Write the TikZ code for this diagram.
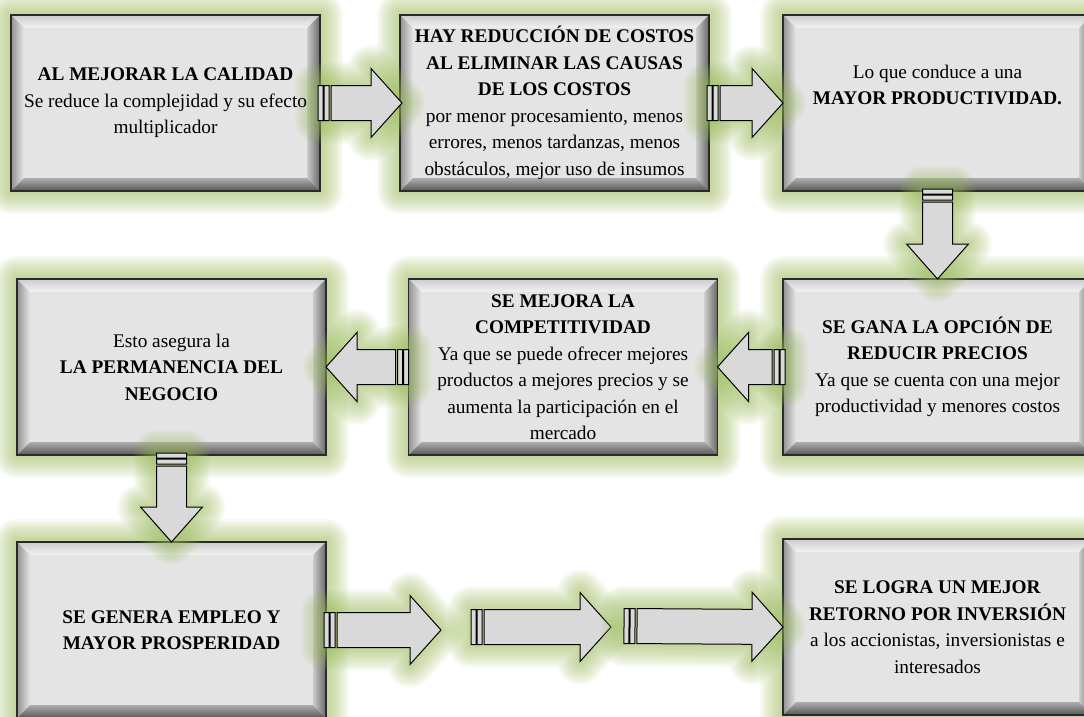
\documentclass[tikz,border=0pt]{standalone}
\usepackage{fontspec}
\setmainfont{Liberation Serif}
\usetikzlibrary{calc}

\definecolor{glowc}{HTML}{9BBB59}
\definecolor{facec}{HTML}{E4E4E4}
\definecolor{arrowc}{HTML}{D9D9D9}
\definecolor{edgec}{HTML}{2A2A2A}

\pgfdeclarelayer{paper}
\pgfdeclarelayer{boxglow}
\pgfdeclarelayer{bevel}
\pgfdeclarelayer{arrows}
\pgfsetlayers{paper,boxglow,bevel,arrows,main}

\tikzset{
  glowring/.style={preaction={draw=glowc, draw opacity=.065, line width=#1, line join=round, fill=none}},
  glow/.style={glowring=46pt, glowring=42pt, glowring=38pt, glowring=34pt, glowring=30pt,
               glowring=26pt, glowring=22pt, glowring=18pt, glowring=14pt, glowring=10pt, glowring=6pt},
  stagebox/.style={rectangle, minimum width=309pt, minimum height=176pt, inner sep=0pt,
                   outer sep=0pt, align=center, text=black,
                   font=\fontsize{19.3}{26.5}\selectfont},
  arrowbody/.style={fill=arrowc, draw=black, line width=1pt, line join=miter},
}

% bevelled box with a soft green glow around it
\newcommand\stage[3]{%
  \node[stagebox] (#1) at (#2) {#3};
  \begin{pgfonlayer}{boxglow}
    \path[glow] (#1.south west) rectangle (#1.north east);
  \end{pgfonlayer}
  \begin{pgfonlayer}{bevel}
    \fill[facec] (#1.south west) rectangle (#1.north east);
    % top face of the bevel
    \shade[top color=gray!40, middle color=white!98!black, bottom color=white!95!black]
      (#1.north west) -- (#1.north east) -- ([shift={(-13pt,-13pt)}]#1.north east)
      -- ([shift={(13pt,-13pt)}]#1.north west) -- cycle;
    % left face
    \shade[left color=gray!85!white, right color=white!90!black]
      (#1.north west) -- ([shift={(13pt,-13pt)}]#1.north west)
      -- ([shift={(13pt,13pt)}]#1.south west) -- (#1.south west) -- cycle;
    % right face
    \shade[left color=white!80!black, right color=black!60]
      (#1.north east) -- ([shift={(-13pt,-13pt)}]#1.north east)
      -- ([shift={(-13pt,13pt)}]#1.south east) -- (#1.south east) -- cycle;
    % bottom face
    \shade[top color=black!32, bottom color=black!66]
      (#1.south west) -- ([shift={(13pt,13pt)}]#1.south west)
      -- ([shift={(-13pt,13pt)}]#1.south east) -- (#1.south east) -- cycle;
    \draw[edgec, line width=1.3pt] (#1.south west) rectangle (#1.north east);
  \end{pgfonlayer}
}

% point at distance #1 along and #2 across the arrow axis
\newcommand\AP[2]{({\x1+(#1)*\n2*1pt-(#2)*\n3*1pt},{\y1+(#1)*\n3*1pt+(#2)*\n2*1pt})}

% striped block arrow: from, to, half body width, half head width, head length
\newcommand\sarrow[5]{%
  \begin{pgfonlayer}{arrows}
  \path[glow, arrowbody] let \p1=(#1), \p2=(#2), \n1={veclen(\x2-\x1,\y2-\y1)},
      \n2={(\x2-\x1)/\n1}, \n3={(\y2-\y1)/\n1} in
    \AP{0}{-#3} -- \AP{5}{-#3} -- \AP{5}{#3} -- \AP{0}{#3} -- cycle
    \AP{6}{-#3} -- \AP{11}{-#3} -- \AP{11}{#3} -- \AP{6}{#3} -- cycle
    \AP{13}{-#3} -- \AP{\n1-#5}{-#3} -- \AP{\n1-#5}{-#4} -- \AP{\n1}{0}
      -- \AP{\n1-#5}{#4} -- \AP{\n1-#5}{#3} -- \AP{13}{#3} -- cycle;
  \end{pgfonlayer}
}

\begin{document}
\begin{tikzpicture}[x=1pt, y=-1pt]
\useasboundingbox (0,0) rectangle (1084,717);
\begin{pgfonlayer}{paper}
  \fill[white] (0,0) rectangle (1084,717);
\end{pgfonlayer}

\stage{b1}{165.5,103}{\textbf{AL MEJORAR LA CALIDAD}\\Se reduce la complejidad y su efecto\\multiplicador}
\stage{b2}{554.5,103}{\textbf{HAY REDUCCIÓN DE COSTOS}\\\textbf{AL ELIMINAR LAS CAUSAS}\\\textbf{DE LOS COSTOS}\\por menor procesamiento, menos\\errores, menos tardanzas, menos\\obstáculos, mejor uso de insumos}
\stage{b3}{937.5,103}{Lo que conduce a una\\\textbf{MAYOR PRODUCTIVIDAD.}\\[10pt]\mbox{}}
\stage{b4}{937.5,367}{\textbf{SE GANA LA OPCIÓN DE}\\\textbf{REDUCIR PRECIOS}\\Ya que se cuenta con una mejor\\productividad y menores costos}
\stage{b5}{563,367}{\textbf{SE MEJORA LA}\\\textbf{COMPETITIVIDAD}\\Ya que se puede ofrecer mejores\\productos a mejores precios y se\\aumenta la participación en el\\mercado}
\stage{b6}{171.5,367}{Esto asegura la\\\textbf{LA PERMANENCIA DEL}\\\textbf{NEGOCIO}}
\stage{b7}{171.5,630}{\textbf{SE GENERA EMPLEO Y}\\\textbf{MAYOR PROSPERIDAD}}
\stage{b8}{937.5,627}{\textbf{SE LOGRA UN MEJOR}\\\textbf{RETORNO POR INVERSIÓN}\\a los accionistas, inversionistas e\\interesados}

% free ends of the bottom chain of arrows
\coordinate (m1) at (441,630);
\coordinate (m2) at (471,627);
\coordinate (m3) at (611,627);
\coordinate (m4) at (624,626);

\sarrow{[xshift=-2pt]b1.east}{[xshift=2pt]b2.west}{17.5}{34.5}{31}
\sarrow{[xshift=-2pt]b2.east}{b3.west}{17.5}{34.5}{31}
\sarrow{[yshift=2pt]b3.south}{b4.north}{15}{31}{35}
\sarrow{[xshift=2pt]b4.west}{b5.east}{17.5}{34.5}{31}
\sarrow{b5.west}{b6.east}{17.5}{34.5}{31}
\sarrow{[yshift=2pt]b6.south}{b7.north}{15}{31}{35}
\sarrow{[xshift=-2pt]b7.east}{m1}{17.5}{34.5}{31}
\sarrow{m2}{m3}{17.5}{34.5}{31}
\sarrow{m4}{b8.west}{17.5}{34.5}{31}
\end{tikzpicture}
\end{document}
